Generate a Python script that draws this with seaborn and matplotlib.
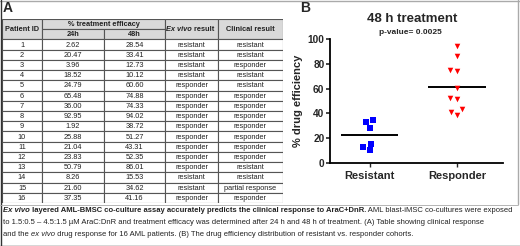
import numpy as np
import pandas as pd
import matplotlib
matplotlib.use("Agg")
import matplotlib.pyplot as plt
import seaborn as sns
from matplotlib.patches import Rectangle
from matplotlib.markers import MarkerStyle

# table data (panel A)
patient_ids = list(range(1, 17))
eff_24h = [2.62, 20.47, 3.96, 18.52, 24.79, 65.48, 36.00, 92.95, 1.92, 25.88,
           21.04, 23.83, 50.79, 8.26, 21.60, 37.35]
eff_48h = [28.54, 33.41, 12.73, 10.12, 60.60, 74.88, 74.33, 94.02, 38.72, 51.27,
           43.31, 52.35, 86.01, 15.53, 34.62, 41.16]
ex_vivo = ["resistant"] * 4 + ["responder"] * 9 + ["resistant"] * 2 + ["responder"]
clinical = ["resistant", "resistant", "responder", "resistant", "resistant",
            "responder", "responder", "responder", "responder", "responder",
            "responder", "responder", "resistant", "resistant", "partial response",
            "responder"]

group_order = ["Resistant", "Responder"]
group_colors = {"Resistant": "#0000ff", "Responder": "#ff0000"}
group_markers = {"Resistant": "s", "Responder": "v"}

sns.set_theme(style="ticks")
plt.rcParams["font.family"] = ["Liberation Sans", "DejaVu Sans"]

W, H = 520, 246
fig = plt.figure(figsize=(W / 100, H / 100), dpi=100)


def fx(px):
    return px / W


def fy(py):
    return 1 - py / H


# ---------------- panel A: table ----------------
col_edges = [0, 40, 102, 163, 216, 281]
tab = fig.add_axes([fx(2), fy(203), fx(281), fy(19) - fy(203)])
tab.set_xlim(0, col_edges[-1])
tab.set_ylim(18, 0)
tab.axis("off")

lw = 0.8
ec = "#555555"
hdr_bg = "#d9d9d9"
fs = 5.3

# header cells
hdr_cells = [
    (col_edges[0], col_edges[1], 0, 2, "Patient ID", "bold"),
    (col_edges[1], col_edges[3], 0, 1, "% treatment efficacy", "bold"),
    (col_edges[1], col_edges[2], 1, 2, "24h", "bold"),
    (col_edges[2], col_edges[3], 1, 2, "48h", "bold"),
    (col_edges[3], col_edges[4], 0, 2, "Ex vivo result", "bi"),
    (col_edges[4], col_edges[5], 0, 2, "Clinical result", "bold"),
]
for x0, x1, y0, y1, txt, sty in hdr_cells:
    tab.add_patch(Rectangle((x0, y0), x1 - x0, y1 - y0, facecolor=hdr_bg,
                            edgecolor=ec, lw=lw))
    if sty == "bi":
        tab.text((x0 + x1) / 2, (y0 + y1) / 2, "Ex vivo", fontsize=fs, fontweight="bold",
                 fontstyle="italic", ha="right", va="center", color="#222222")
        tab.text((x0 + x1) / 2, (y0 + y1) / 2, " result", fontsize=fs, fontweight="bold",
                 ha="left", va="center", color="#222222")
    else:
        tab.text((x0 + x1) / 2, (y0 + y1) / 2, txt, fontsize=fs, fontweight="bold",
                 ha="center", va="center", color="#222222")

for i, pid in enumerate(patient_ids):
    row = [str(pid), f"{eff_24h[i]:.2f}", f"{eff_48h[i]:.2f}", ex_vivo[i], clinical[i]]
    y0 = 2 + i
    for j, val in enumerate(row):
        x0, x1 = col_edges[j], col_edges[j + 1]
        tab.add_patch(Rectangle((x0, y0), x1 - x0, 1, facecolor="white",
                                edgecolor=ec, lw=lw))
        tab.text((x0 + x1) / 2, y0 + 0.55, val, fontsize=fs, ha="center",
                 va="center", color="#222222")

fig.text(fx(3), fy(8), "A", fontsize=10, fontweight="bold", va="center", ha="left")

# ---------------- panel B: scatter ----------------
df = pd.DataFrame({"group": [g.capitalize() for g in ex_vivo], "eff": eff_48h})

ax = fig.add_axes([fx(330), fy(163), fx(503) - fx(330), fy(39) - fy(163)])
for g in group_order:
    n_before = len(ax.collections)
    sns.swarmplot(data=df[df["group"] == g], x="group", y="eff", order=group_order,
                  color=group_colors[g], marker=group_markers[g], size=5,
                  linewidth=0, ax=ax)
    # keep swarm spacing, draw the marker glyph a bit smaller
    ms = MarkerStyle(group_markers[g])
    small = ms.get_path().transformed(ms.get_transform().scale(0.8))
    for coll in ax.collections[n_before:]:
        coll.set_paths([small])

means = df.groupby("group")["eff"].mean()
for k, g in enumerate(group_order):
    ax.hlines(means[g], k - 0.33, k + 0.33, color="black", lw=1.4)

ax.set_xlim(-0.45, 1.52)
ax.set_ylim(0, 100)
ax.set_yticks([0, 20, 40, 60, 80, 100])
ax.set_xlabel("")
ax.set_ylabel("% drug efficiency", fontsize=8, fontweight="bold", labelpad=3)
ax.tick_params(axis="y", labelsize=7.3, width=1.2, length=3, pad=1)
ax.tick_params(axis="x", labelsize=8, width=1.0, length=3, pad=3)
for lab in ax.get_yticklabels() + ax.get_xticklabels():
    lab.set_fontweight("bold")
sns.despine(ax=ax)
for s in ["left", "bottom"]:
    ax.spines[s].set_linewidth(1.3)
    ax.spines[s].set_color("black")

fig.text(fx(412), fy(19), "48 h treatment", fontsize=9.5, fontweight="bold",
         ha="center", va="center")
fig.text(fx(410), fy(33), "p-value= 0.0025", fontsize=6, fontweight="bold",
         ha="center", va="center")
fig.text(fx(300), fy(8), "B", fontsize=10, fontweight="bold", va="center", ha="left")

# ---------------- caption ----------------
cap_lines = [
    [("Ex vivo", "bold", "italic"),
     (" layered AML-BMSC co-culture assay accurately predicts the clinical response to AraC+DnR.", "bold", "normal"),
     (" AML blast-iMSC co-cultures were exposed", "normal", "normal")],
    [("to 1.5:0.5 \u2013 4.5:1.5 \u00b5M AraC:DnR and treatment efficacy was determined after 24 h and 48 h of treatment. (A) Table showing clinical response", "normal", "normal")],
    [("and the ", "normal", "normal"), ("ex vivo", "normal", "italic"),
     (" drug response for 16 AML patients. (B) The drug efficiency distribution of resistant vs. responder cohorts.", "normal", "normal")],
]
cap_y = [211, 223, 235]
cap_fs = 5.5
renderer = fig.canvas.get_renderer()
for line, py in zip(cap_lines, cap_y):
    x = fx(3)
    for txt, wt, st in line:
        t = fig.text(x, fy(py), txt, fontsize=cap_fs, fontweight=wt, fontstyle=st,
                     ha="left", va="center", color="#222222")
        bb = t.get_window_extent(renderer=renderer)
        x = bb.x1 / fig.bbox.width

# frame lines
fig.add_artist(plt.Line2D([0, 1], [fy(0.5), fy(0.5)], color="#aaaaaa", lw=1))
fig.add_artist(plt.Line2D([fx(518), fx(518)], [fy(0), fy(204)], color="#aaaaaa", lw=1))
fig.add_artist(plt.Line2D([fx(0.5), fx(0.5)], [fy(0), fy(246)], color="#333333", lw=1))
fig.add_artist(plt.Line2D([0, 1], [fy(245.5), fy(245.5)], color="#333333", lw=1))
fig.add_artist(plt.Line2D([fx(0), fx(518)], [fy(204.5), fy(204.5)], color="#aaaaaa", lw=0.6))

fig.savefig("out.png", dpi=100)
